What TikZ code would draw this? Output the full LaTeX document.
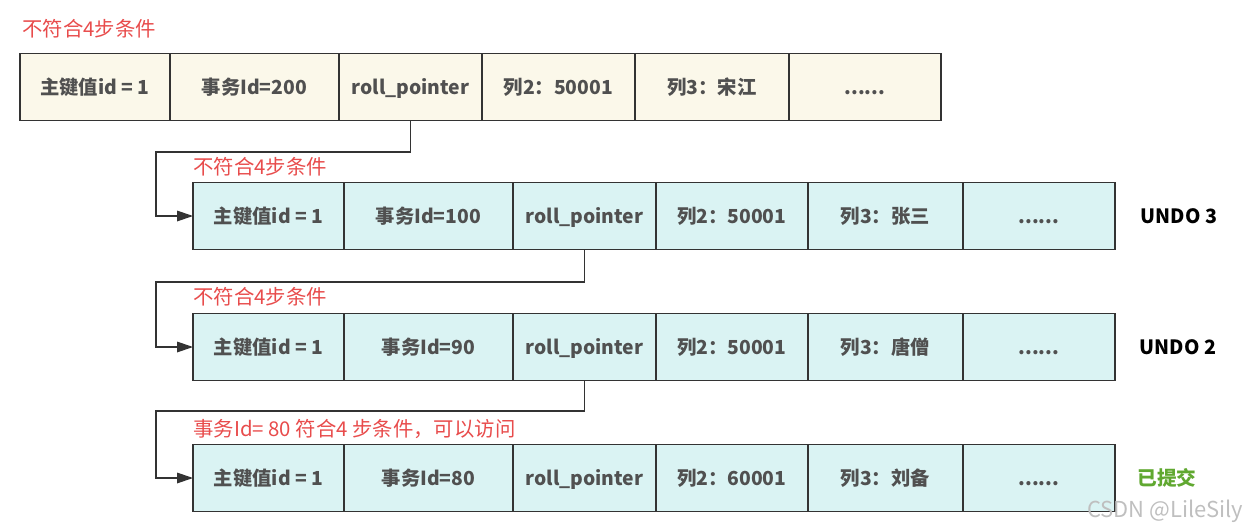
\documentclass[tikz,border=0pt]{standalone}
\usepackage{fontspec}
\setmainfont{Noto Sans CJK SC}
\usetikzlibrary{arrows.meta,positioning}
\definecolor{rowold}{RGB}{251,248,234}
\definecolor{rowundo}{RGB}{218,243,243}
\definecolor{celltext}{RGB}{80,80,80}
\definecolor{notered}{RGB}{232,76,76}
\definecolor{okgreen}{RGB}{96,168,48}
\tikzset{
  cell/.style={draw=black!80, line width=0.8pt, minimum height=1.34cm, inner sep=0pt,
    outer sep=0pt, font=\bfseries\fontsize{11}{13}\selectfont, text=celltext, anchor=west,
    text height=10pt, text depth=1pt},
  note/.style={font=\fontsize{11.6}{13}\selectfont, text=notered, anchor=west, inner sep=0pt},
  link/.style={draw=black!80, line width=0.7pt},
  tag/.style={font=\bfseries\fontsize{11.2}{13}\selectfont, inner sep=0pt}
}
\begin{document}
\begin{tikzpicture}[x=0.02cm,y=-0.02cm]
  \useasboundingbox (0,0) rectangle (1249,531);
  % current version
  \node[cell, fill=rowold, minimum width=3.0cm] (a1) at (20,87) {主键值id = 1};
  \node[cell, fill=rowold, minimum width=3.38cm] (a2) at (a1.east) {事务Id=200};
  \node[cell, fill=rowold, minimum width=2.86cm] (a3) at (a2.east) {roll\_pointer};
  \node[cell, fill=rowold, minimum width=3.06cm] (a4) at (a3.east) {列2：50001};
  \node[cell, fill=rowold, minimum width=3.08cm] (a5) at (a4.east) {列3：宋江};
  \node[cell, fill=rowold, minimum width=3.04cm] (a6) at (a5.east) {......};
  \node[note] (na) at (22,29) {不符合4步条件};
  % undo 3
  \node[cell, fill=rowundo, minimum width=3.02cm] (b1) at (193,216) {主键值id = 1};
  \node[cell, fill=rowundo, minimum width=3.38cm] (b2) at (b1.east) {事务Id=100};
  \node[cell, fill=rowundo, minimum width=2.86cm] (b3) at (b2.east) {roll\_pointer};
  \node[cell, fill=rowundo, minimum width=3.04cm] (b4) at (b3.east) {列2：50001};
  \node[cell, fill=rowundo, minimum width=3.10cm] (b5) at (b4.east) {列3：张三};
  \node[cell, fill=rowundo, minimum width=3.04cm] (b6) at (b5.east) {......};
  \node[note] (nb) at (193,167) {不符合4步条件};
  \node[tag] (ub) at (1179,216) {UNDO 3};
  % undo 2
  \node[cell, fill=rowundo, minimum width=3.02cm] (c1) at (193,347) {主键值id = 1};
  \node[cell, fill=rowundo, minimum width=3.38cm] (c2) at (c1.east) {事务Id=90};
  \node[cell, fill=rowundo, minimum width=2.86cm] (c3) at (c2.east) {roll\_pointer};
  \node[cell, fill=rowundo, minimum width=3.04cm] (c4) at (c3.east) {列2：50001};
  \node[cell, fill=rowundo, minimum width=3.10cm] (c5) at (c4.east) {列3：唐僧};
  \node[cell, fill=rowundo, minimum width=3.04cm] (c6) at (c5.east) {......};
  \node[note] (nc) at (193,297) {不符合4步条件};
  \node[tag] (uc) at (1178,347) {UNDO 2};
  % undo 1
  \node[cell, fill=rowundo, minimum width=3.02cm] (d1) at (193,478) {主键值id = 1};
  \node[cell, fill=rowundo, minimum width=3.38cm] (d2) at (d1.east) {事务Id=80};
  \node[cell, fill=rowundo, minimum width=2.86cm] (d3) at (d2.east) {roll\_pointer};
  \node[cell, fill=rowundo, minimum width=3.04cm] (d4) at (d3.east) {列2：60001};
  \node[cell, fill=rowundo, minimum width=3.10cm] (d5) at (d4.east) {列3：刘备};
  \node[cell, fill=rowundo, minimum width=3.04cm] (d6) at (d5.east) {......};
  \node[note] (nd) at (193,429) {事务Id= 80 符合4 步条件，可以访问};
  \node[tag, text=okgreen] (ud) at (1167,478) {已提交};
  % pointers
  \draw[link, -{Triangle[length=9pt,width=6pt]}] (a3.south) |- (156,152) |- (b1.west);
  \draw[link, -{Triangle[length=9pt,width=6pt]}] (b3.south) |- (156,282) |- (c1.west);
  \draw[link, -{Triangle[length=9pt,width=6pt]}] (c3.south) |- (156,411) |- (d1.west);
  \node[font=\fontsize{12.5}{14}\selectfont, text=black!25] (wm) at (1165,511) {CSDN @LileSily};
\end{tikzpicture}
\end{document}
